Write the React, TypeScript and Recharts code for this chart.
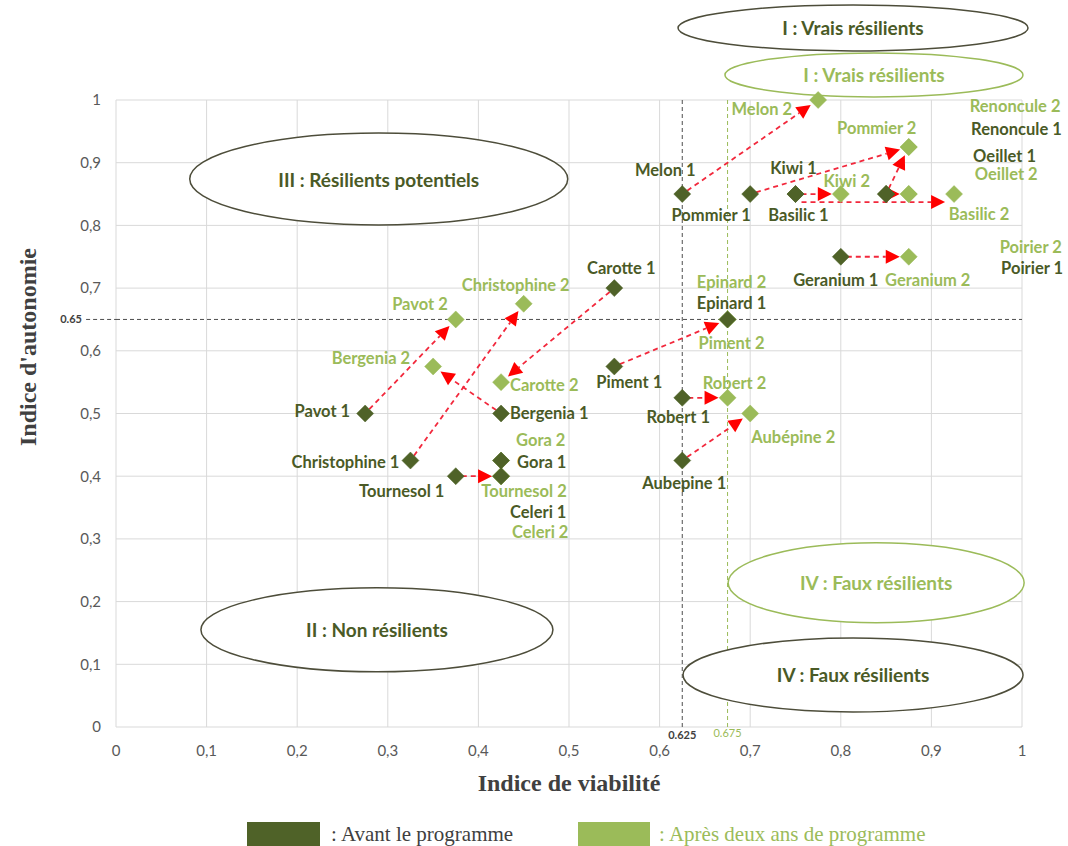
import React from 'react';
import {
  ScatterChart,
  Scatter,
  XAxis,
  YAxis,
  CartesianGrid,
  ReferenceLine,
  ReferenceDot,
} from 'recharts';

// ticks on both axes
const xTicks = [0, 0.1, 0.2, 0.3, 0.4, 0.5, 0.6, 0.7, 0.8, 0.9, 1];
const yTicks = [0, 0.1, 0.2, 0.3, 0.4, 0.5, 0.6, 0.7, 0.8, 0.9, 1];

// thresholds
const viabilityBefore = 0.625;
const viabilityAfter = 0.675;
const autonomyLimit = 0.65;

// "Avant le programme"
const before = [
  { name: 'Melon 1', x: 0.625, y: 0.85 },
  { name: 'Pommier 1', x: 0.7, y: 0.85 },
  { name: 'Kiwi 1', x: 0.75, y: 0.85 },
  { name: 'Basilic 1', x: 0.75, y: 0.85 },
  { name: 'Renoncule 1', x: 0.85, y: 0.85 },
  { name: 'Oeillet 1', x: 0.85, y: 0.85 },
  { name: 'Poirier 1', x: 0.85, y: 0.85 },
  { name: 'Geranium 1', x: 0.8, y: 0.75 },
  { name: 'Carotte 1', x: 0.55, y: 0.7 },
  { name: 'Epinard 1', x: 0.675, y: 0.65 },
  { name: 'Piment 1', x: 0.55, y: 0.575 },
  { name: 'Robert 1', x: 0.625, y: 0.525 },
  { name: 'Aubepine 1', x: 0.625, y: 0.425 },
  { name: 'Pavot 1', x: 0.275, y: 0.5 },
  { name: 'Bergenia 1', x: 0.425, y: 0.5 },
  { name: 'Christophine 1', x: 0.325, y: 0.425 },
  { name: 'Gora 1', x: 0.425, y: 0.425 },
  { name: 'Tournesol 1', x: 0.375, y: 0.4 },
  { name: 'Celeri 1', x: 0.425, y: 0.4 },
];

// "Après deux ans de programme"
const after = [
  { name: 'Melon 2', x: 0.775, y: 1 },
  { name: 'Pommier 2', x: 0.875, y: 0.925 },
  { name: 'Renoncule 2', x: 0.875, y: 0.925 },
  { name: 'Kiwi 2', x: 0.8, y: 0.85 },
  { name: 'Oeillet 2', x: 0.875, y: 0.85 },
  { name: 'Poirier 2', x: 0.875, y: 0.85 },
  { name: 'Basilic 2', x: 0.925, y: 0.85 },
  { name: 'Geranium 2', x: 0.875, y: 0.75 },
  { name: 'Christophine 2', x: 0.45, y: 0.675 },
  { name: 'Pavot 2', x: 0.375, y: 0.65 },
  { name: 'Epinard 2', x: 0.675, y: 0.65 },
  { name: 'Piment 2', x: 0.675, y: 0.65 },
  { name: 'Bergenia 2', x: 0.35, y: 0.575 },
  { name: 'Carotte 2', x: 0.425, y: 0.55 },
  { name: 'Robert 2', x: 0.675, y: 0.525 },
  { name: 'Aubépine 2', x: 0.7, y: 0.5 },
  { name: 'Gora 2', x: 0.425, y: 0.425 },
  { name: 'Tournesol 2', x: 0.425, y: 0.4 },
  { name: 'Celeri 2', x: 0.425, y: 0.4 },
];

// red arrows: before -> after
const moves = [
  ['Melon 1', 'Melon 2'],
  ['Pommier 1', 'Pommier 2'],
  ['Kiwi 1', 'Kiwi 2'],
  ['Basilic 1', 'Basilic 2'],
  ['Renoncule 1', 'Renoncule 2'],
  ['Oeillet 1', 'Oeillet 2'],
  ['Geranium 1', 'Geranium 2'],
  ['Carotte 1', 'Carotte 2'],
  ['Christophine 1', 'Christophine 2'],
  ['Pavot 1', 'Pavot 2'],
  ['Bergenia 1', 'Bergenia 2'],
  ['Tournesol 1', 'Tournesol 2'],
  ['Piment 1', 'Piment 2'],
  ['Robert 1', 'Robert 2'],
  ['Aubepine 1', 'Aubépine 2'],
];

const DARK = '#4f6228';
const LIGHT = '#9bbb59';
const DARK_TEXT = '#4a5a26';
const RED = '#f2283c';

// label placement relative to the marker: dx, dy, anchor
const labelPos: Record<string, [number, number, string]> = {
  'Melon 1': [-17, -24, 'middle'],
  'Pommier 1': [-39, 21, 'middle'],
  'Kiwi 1': [-2, -26, 'middle'],
  'Basilic 1': [3, 21, 'middle'],
  'Renoncule 1': [85, -65, 'start'],
  'Oeillet 1': [87, -38, 'start'],
  'Poirier 1': [115, 74, 'start'],
  'Geranium 1': [-5, 23, 'middle'],
  'Carotte 1': [7, -20, 'middle'],
  'Epinard 1': [4, -16, 'middle'],
  'Piment 1': [15, 16, 'middle'],
  'Robert 1': [-4, 19, 'middle'],
  'Aubepine 1': [2, 22, 'middle'],
  'Pavot 1': [-15, -3, 'end'],
  'Bergenia 1': [9, -1, 'start'],
  'Christophine 1': [-11, 1, 'end'],
  'Gora 1': [16, 1, 'start'],
  'Tournesol 1': [-54, 15, 'middle'],
  'Celeri 1': [9, 36, 'start'],
  'Melon 2': [-26, 9, 'end'],
  'Pommier 2': [-32, -19, 'middle'],
  'Renoncule 2': [61, -41, 'start'],
  'Kiwi 2': [6, -13, 'middle'],
  'Oeillet 2': [66, -20, 'start'],
  'Poirier 2': [91, 53, 'start'],
  'Basilic 2': [25, 20, 'middle'],
  'Geranium 2': [19, 23, 'middle'],
  'Christophine 2': [-8, -19, 'middle'],
  'Pavot 2': [-8, -15, 'end'],
  'Epinard 2': [4, -37, 'middle'],
  'Piment 2': [4, 24, 'middle'],
  'Bergenia 2': [-23, -8, 'end'],
  'Carotte 2': [9, 3, 'start'],
  'Robert 2': [7, -15, 'middle'],
  'Aubépine 2': [1, 23, 'start'],
  'Gora 2': [15, -21, 'start'],
  'Tournesol 2': [23, 15, 'middle'],
  'Celeri 2': [11, 56, 'start'],
};

// pixel shift of an arrow (keeps overlapping arrows apart)
const arrowShift: Record<string, number> = { 'Basilic 1': 8 };

// quadrant ellipses, centred in data units
const zoneShapes = [
  { text: 'I : Vrais résilients', x: 0.8135, y: 1.115, rx: 175, ry: 23, tone: 'dark' },
  { text: 'I : Vrais résilients', x: 0.8366, y: 1.04, rx: 149, ry: 22, tone: 'light' },
  { text: 'III : Résilients potentiels', x: 0.29, y: 0.874, rx: 189, ry: 46, tone: 'dark' },
  { text: 'II : Non résilients', x: 0.288, y: 0.155, rx: 176, ry: 42, tone: 'dark' },
  { text: 'IV : Faux résilients', x: 0.839, y: 0.23, rx: 148, ry: 40, tone: 'light' },
  { text: 'IV : Faux résilients', x: 0.8135, y: 0.083, rx: 170, ry: 37, tone: 'dark' },
];

const labelFont = { fontFamily: 'Lato, "Open Sans", sans-serif', fontWeight: 700, fontSize: 16.5 };

function makeMarker(fill: string, textColor: string) {
  return (props: any) => {
    const { cx, cy, payload } = props;
    if (cx == null || cy == null) return null;
    const r = 8.5;
    const pos = labelPos[payload.name] || [0, -18, 'middle'];
    return (
      <g>
        <polygon
          points={`${cx},${cy - r} ${cx + r},${cy} ${cx},${cy + r} ${cx - r},${cy}`}
          fill={fill}
          stroke={fill}
          strokeWidth={0.5}
        />
        <text
          x={cx + pos[0]}
          y={cy + pos[1]}
          textAnchor={pos[2] as any}
          dominantBaseline="central"
          fill={textColor}
          style={labelFont}
        >
          {payload.name}
        </text>
      </g>
    );
  };
}

function makeArrow(shift: number) {
  return (props: any) => {
    const x1 = Number(props.x1);
    const y1 = Number(props.y1) + shift;
    const x2 = Number(props.x2);
    const y2 = Number(props.y2) + shift;
    const dx = x2 - x1;
    const dy = y2 - y1;
    const len = Math.sqrt(dx * dx + dy * dy);
    if (!len) return null;
    const ux = dx / len;
    const uy = dy / len;
    const sx = x1 + ux * 6;
    const sy = y1 + uy * 6;
    const tx = x2 - ux * 9;
    const ty = y2 - uy * 9;
    const head = 14;
    const half = 7;
    const bx = tx - ux * head;
    const by = ty - uy * head;
    return (
      <g>
        <line x1={sx} y1={sy} x2={bx} y2={by} stroke={RED} strokeWidth={1.8} strokeDasharray="5 4" />
        <polygon
          points={`${tx},${ty} ${bx - uy * half},${by + ux * half} ${bx + uy * half},${by - ux * half}`}
          fill="#ff0000"
        />
      </g>
    );
  };
}

function zoneShape(z: (typeof zoneShapes)[number]) {
  return (props: any) => {
    const { cx, cy } = props;
    const color = z.tone === 'dark' ? '#4d4d3a' : LIGHT;
    const textColor = z.tone === 'dark' ? DARK_TEXT : LIGHT;
    return (
      <g>
        <ellipse cx={cx} cy={cy} rx={z.rx} ry={z.ry} fill="#ffffff" stroke={color} strokeWidth={1.5} />
        <text
          x={cx}
          y={cy}
          textAnchor="middle"
          dominantBaseline="central"
          fill={textColor}
          style={{ ...labelFont, fontSize: 19 }}
        >
          {z.text}
        </text>
      </g>
    );
  };
}

const findPoint = (name: string) => before.find((p) => p.name === name) || after.find((p) => p.name === name);

const fmt = (v: number) => String(v).replace('.', ',');

export default function App() {
  return (
    <div
      style={{
        position: 'absolute',
        left: 0,
        top: 0,
        width: 1068,
        height: 846,
        background: '#ffffff',
        overflow: 'hidden',
      }}
    >
      <ScatterChart width={1068} height={846} margin={{ top: 100, right: 46, bottom: 79, left: 56 }}>
        <CartesianGrid stroke="#d9d9d9" strokeWidth={1} />
        <XAxis
          type="number"
          dataKey="x"
          domain={[0, 1]}
          ticks={xTicks}
          tickFormatter={fmt}
          axisLine={false}
          tickLine={false}
          height={40}
          tickMargin={12}
          tick={{ fontFamily: 'Lato, sans-serif', fontSize: 15, fill: '#595959' }}
          interval={0}
        />
        <YAxis
          type="number"
          dataKey="y"
          domain={[0, 1]}
          ticks={yTicks}
          tickFormatter={fmt}
          axisLine={false}
          tickLine={false}
          width={60}
          tickMargin={9}
          tick={{ fontFamily: 'Lato, sans-serif', fontSize: 15, fill: '#595959' }}
          interval={0}
        />

        {zoneShapes.map((z, i) => (
          <ReferenceDot key={`zone-${i}`} x={z.x} y={z.y} r={1} ifOverflow="visible" shape={zoneShape(z)} />
        ))}

        <ReferenceLine
          x={viabilityBefore}
          stroke="#4d4d4d"
          strokeDasharray="4 3"
          strokeWidth={1}
          label={{
            value: '0.625',
            position: 'bottom',
            offset: 4,
            fill: '#404040',
            fontSize: 11,
            fontWeight: 700,
            fontFamily: 'Lato, sans-serif',
          }}
        />
        <ReferenceLine
          x={viabilityAfter}
          stroke={LIGHT}
          strokeDasharray="4 3"
          strokeWidth={1}
          label={{
            value: '0.675',
            position: 'bottom',
            offset: 2,
            fill: LIGHT,
            fontSize: 11,
            fontFamily: 'Lato, sans-serif',
          }}
        />
        <ReferenceLine
          y={autonomyLimit}
          stroke="#4d4d4d"
          strokeDasharray="4 3"
          strokeWidth={1}
          label={{
            value: '0.65',
            position: 'left',
            offset: 34,
            fill: '#404040',
            fontSize: 11,
            fontWeight: 700,
            fontFamily: 'Lato, sans-serif',
          }}
        />
        {/* the threshold dashes run on past the axis, up to the 0.65 label */}
        <ReferenceLine
          segment={[
            { x: -0.033, y: autonomyLimit },
            { x: 0, y: autonomyLimit },
          ]}
          ifOverflow="visible"
          stroke="#4d4d4d"
          strokeDasharray="4 3"
          strokeWidth={1}
        />

        {moves.map(([from, to]) => {
          const a = findPoint(from);
          const b = findPoint(to);
          if (!a || !b) return null;
          return (
            <ReferenceLine
              key={`move-${from}`}
              segment={[
                { x: a.x, y: a.y },
                { x: b.x, y: b.y },
              ]}
              ifOverflow="visible"
              shape={makeArrow(arrowShift[from] || 0)}
            />
          );
        })}

        <Scatter data={after} isAnimationActive={false} shape={makeMarker(LIGHT, LIGHT)} />
        <Scatter data={before} isAnimationActive={false} shape={makeMarker(DARK, DARK_TEXT)} />
      </ScatterChart>

      {/* axis titles */}
      <div
        style={{
          position: 'absolute',
          left: 369,
          top: 770,
          width: 400,
          textAlign: 'center',
          fontFamily: '"Liberation Serif", "Times New Roman", serif',
          fontWeight: 700,
          fontSize: 24,
          color: '#404040',
        }}
      >
        Indice de viabilité
      </div>
      <div
        style={{
          position: 'absolute',
          left: 28 - 150,
          top: 347 - 15,
          width: 300,
          height: 30,
          lineHeight: '30px',
          textAlign: 'center',
          transform: 'rotate(-90deg)',
          fontFamily: '"Liberation Serif", "Times New Roman", serif',
          fontWeight: 700,
          fontSize: 24,
          color: '#404040',
        }}
      >
        Indice d'autonomie
      </div>

      {/* legend */}
      <div style={{ position: 'absolute', left: 247, top: 822, width: 73, height: 30, background: DARK }} />
      <div
        style={{
          position: 'absolute',
          left: 331,
          top: 822,
          fontFamily: '"Liberation Serif", "Times New Roman", serif',
          fontSize: 21,
          color: '#404040',
          whiteSpace: 'nowrap',
        }}
      >
        : Avant le programme
      </div>
      <div style={{ position: 'absolute', left: 578, top: 822, width: 72, height: 30, background: LIGHT }} />
      <div
        style={{
          position: 'absolute',
          left: 659,
          top: 822,
          fontFamily: '"Liberation Serif", "Times New Roman", serif',
          fontSize: 21,
          color: LIGHT,
          whiteSpace: 'nowrap',
        }}
      >
        : Après deux ans de programme
      </div>
    </div>
  );
}
